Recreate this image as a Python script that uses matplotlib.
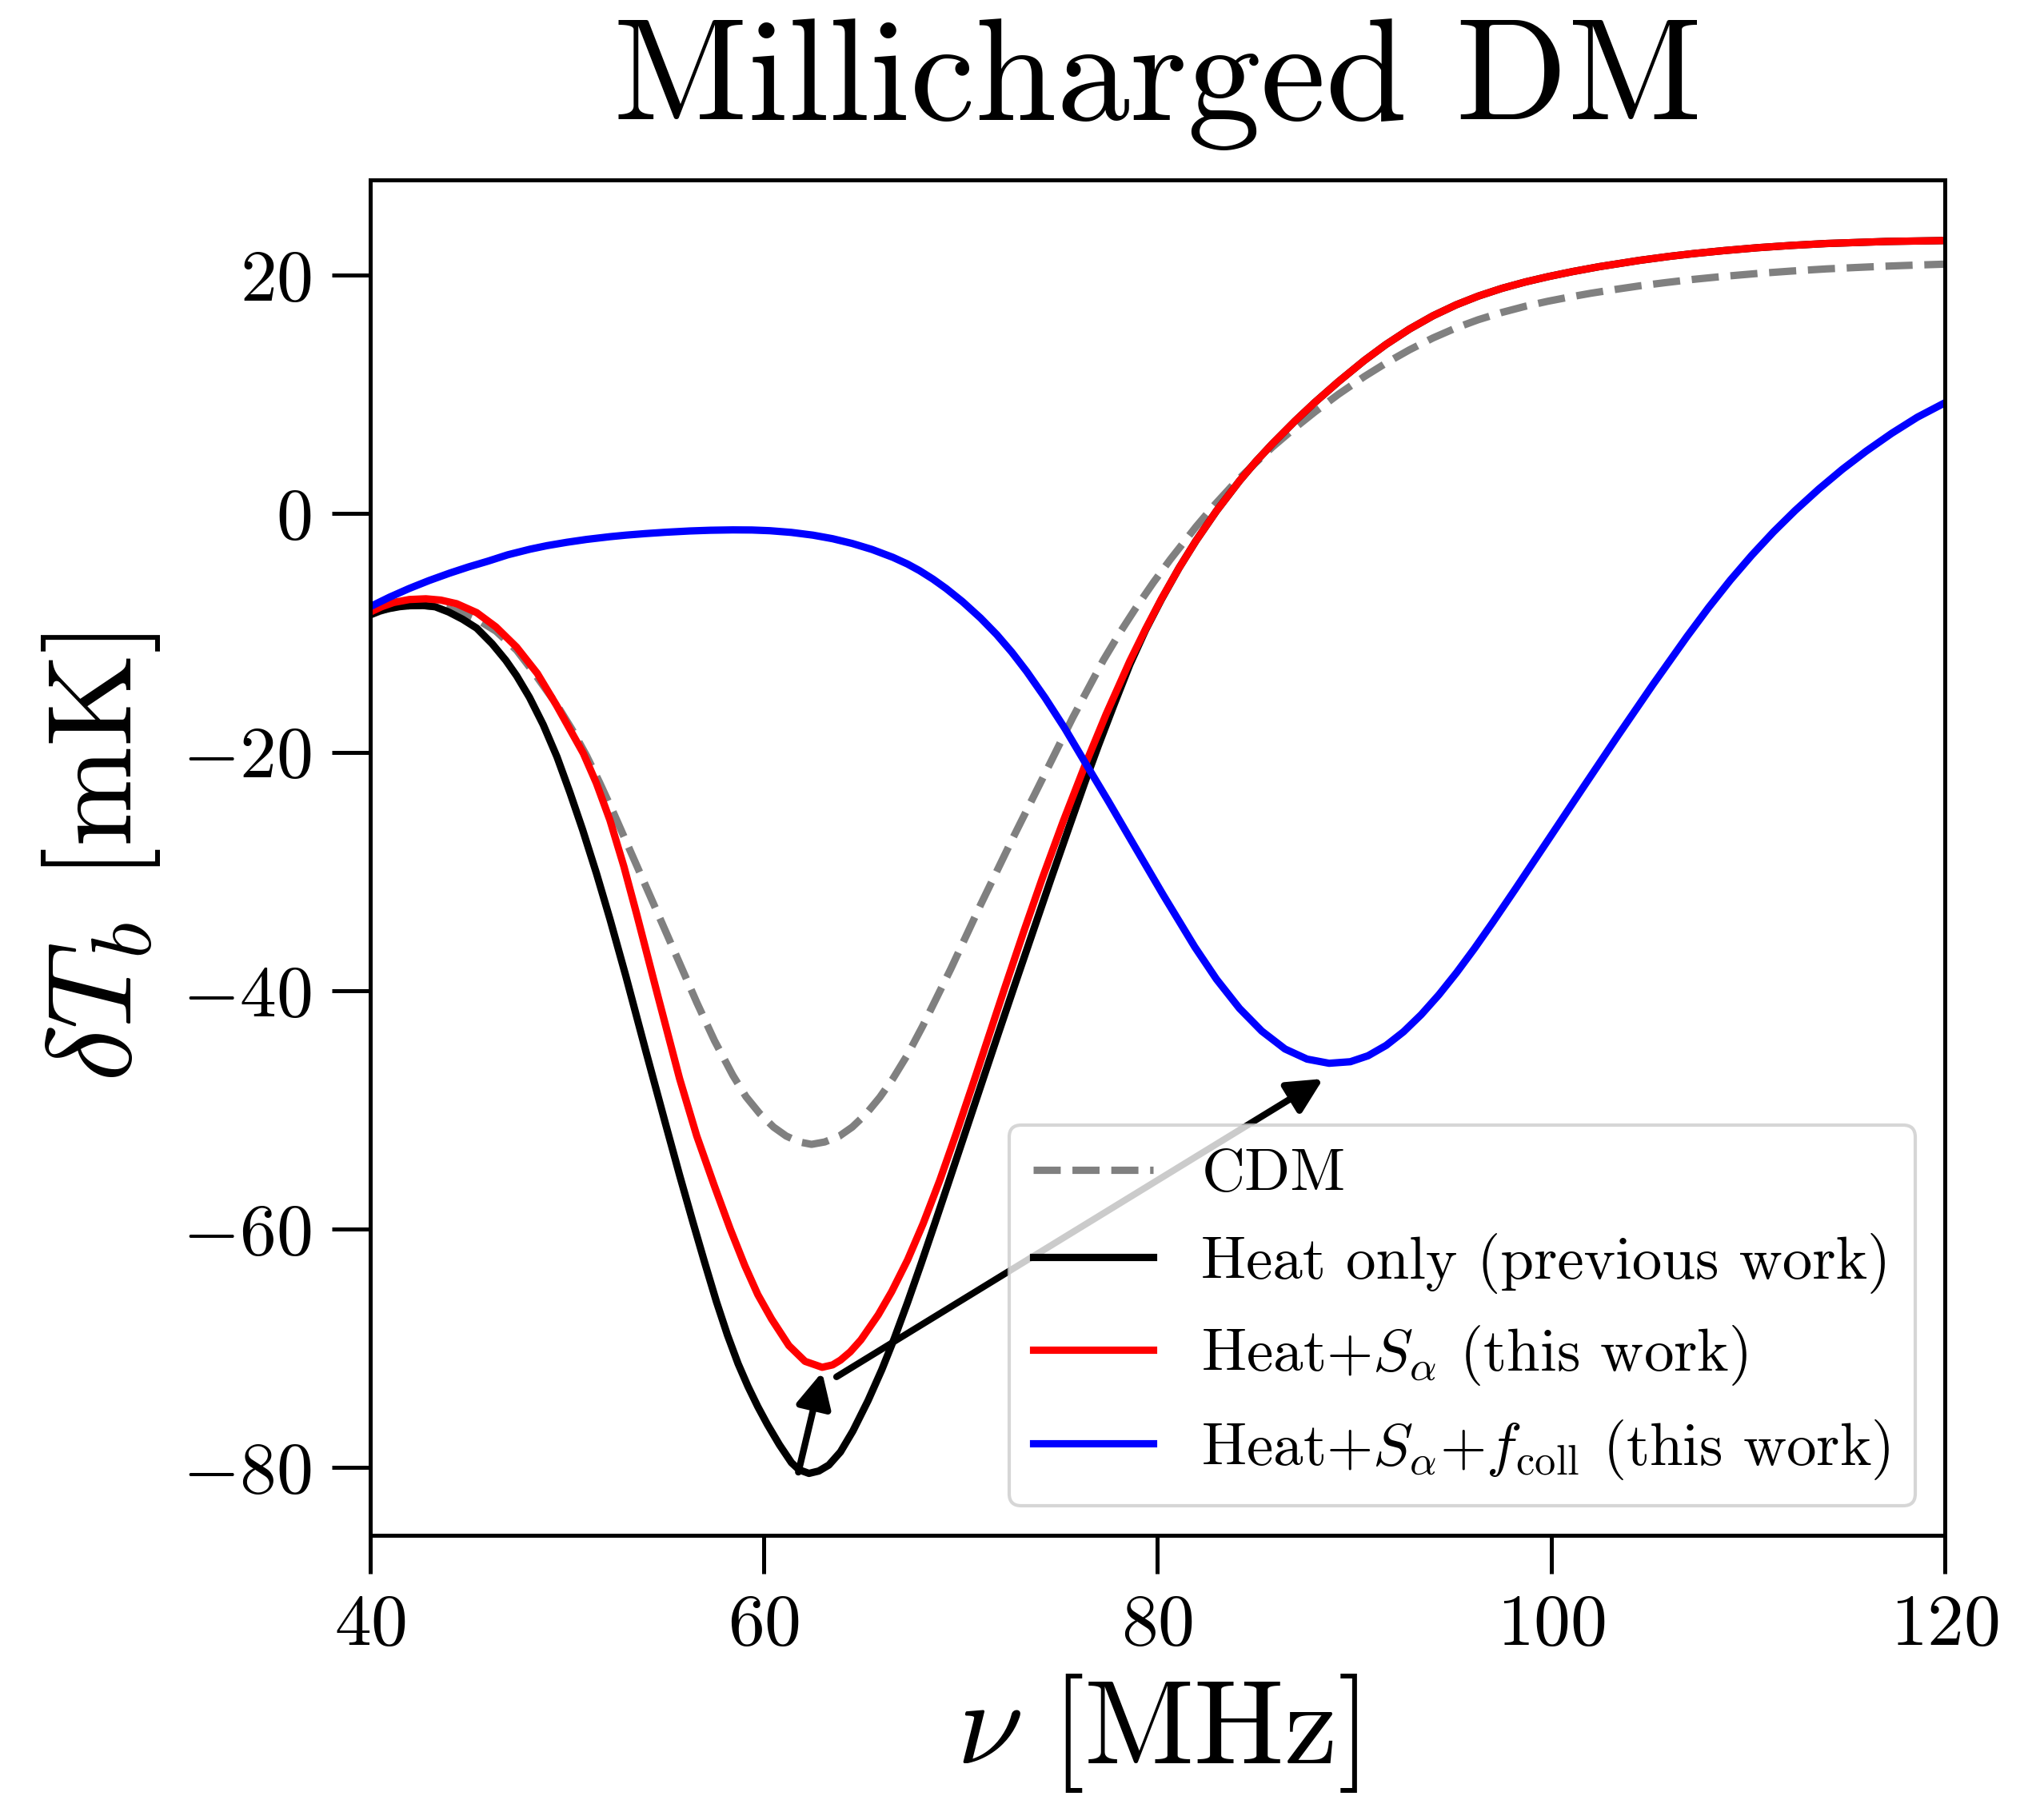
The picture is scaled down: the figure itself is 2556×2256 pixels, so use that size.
import matplotlib
matplotlib.use("Agg")
import matplotlib.pyplot as plt

plt.rcParams.update({
    "font.family": "serif",
    "font.serif": ["cmr10"],
    "mathtext.fontset": "cm",
    "axes.formatter.use_mathtext": True,
    "axes.unicode_minus": True,
})

# ---- data ----
x_cdm = [40, 41, 42, 42.71, 43.5, 44.4, 45.42, 46.4, 47.45, 48.4, 49.48, 50.3, 51, 51.65,
         52.4, 53.2, 54, 54.77, 55.7, 56.6, 57.5, 58.43, 59.1, 59.79, 60.5, 61.14, 61.8,
         62.43, 63.1, 63.85, 64.5, 65.2, 65.9, 66.56, 67.3, 68.07, 69.5, 71.02, 72.6,
         74.14, 75.7, 77.25, 78.1, 78.9, 79.8, 80.66, 81.96, 82.9, 83.9, 84.9, 85.85,
         87, 88, 89.2, 90.51, 91.6, 92.8, 94, 95.18, 96.3, 97.5, 98.7, 99.84, 101,
         102.02, 103.3, 104.5, 105.8, 107.2, 108.8, 110.5, 112.2, 113.97, 115.5, 117,
         118.5, 120]
y_cdm = [-8.48, -7.9, -7.72, -7.7, -7.85, -8.15, -8.85, -9.85, -11.45, -13.5, -16.0, -18.2, -20.3, -22.5,
         -25.2, -28.2, -31.2, -34.1, -37.6, -41.0, -44.2, -47.1, -48.9, -50.3, -51.45, -52.2, -52.7,
         -52.9, -52.7, -52.2, -51.45, -50.35, -48.95, -47.4, -45.4, -43.0, -38.2, -32.8, -27.4,
         -22.3, -17.1, -12.3, -9.96, -7.92, -5.76, -3.83, -1.1, 0.73, 2.53, 4.13, 5.6,
         7.22, 8.54, 10.02, 11.5, 12.62, 13.74, 14.74, 15.59, 16.27, 16.88, 17.4, 17.82, 18.19,
         18.49, 18.82, 19.11, 19.38, 19.65, 19.91, 20.15, 20.35, 20.53, 20.65, 20.76,
         20.85, 20.93]

x_heat = [40, 40.5, 41, 41.5, 42, 42.7, 43.3, 44, 44.7, 45.42, 46.2, 46.9, 47.45, 48.1, 48.8,
          49.5, 50.16, 50.8, 51.51, 52.19, 53, 54, 55, 55.73, 56.4, 57, 57.6, 58.16, 58.7,
          59.2, 59.7, 60.19, 60.8, 61.41, 61.8, 62.3, 62.8, 63.31, 63.9, 64.53, 65.3, 66.0,
          66.63, 67.3, 68.0, 68.7, 69.38, 70.3, 71.23, 71.96, 72.8, 73.7, 74.6, 75.5, 76.3,
          77.0, 77.8, 78.6, 79.4, 80.2, 81.1, 81.96, 83, 84.17, 85, 85.85, 87, 88, 89.2,
          90.51, 91.6, 92.8, 94, 95.18, 96.3, 97.5, 98.7, 99.84, 101.1, 102.45, 104.5, 106,
          107.2, 108.8, 110.5, 112.2, 113.97, 117, 120]
y_heat = [-8.5, -8.15, -7.95, -7.8, -7.72, -7.7, -7.8, -8.25, -8.85, -9.6, -10.9, -12.3, -13.6, -15.4, -17.7,
          -20.4, -23.4, -26.5, -30.2, -34.0, -38.8, -45.0, -51.1, -55.5, -59.4, -62.8, -66.1, -68.9, -71.3,
          -73.2, -74.9, -76.4, -78.1, -79.6, -80.2, -80.5, -80.3, -79.8, -78.7, -76.95, -74.4, -71.8,
          -69.2, -66.2, -62.9, -59.5, -56.15, -51.6, -47.0, -43.4, -39.3, -34.95, -30.6, -26.35, -22.6,
          -19.45, -16.0, -12.65, -9.75, -7.2, -4.55, -2.27, 0.23, 2.75, 4.37, 5.88, 7.79, 9.34, 11.08,
          12.85, 14.18, 15.48, 16.6, 17.52, 18.25, 18.9, 19.44, 19.88, 20.31, 20.72, 21.25, 21.58,
          21.81, 22.07, 22.31, 22.5, 22.66, 22.83, 22.91]

x_sa = [40, 40.6, 41.2, 42, 42.84, 43.6, 44.4, 45.42, 46.4, 47.45, 48.5, 49.48, 50.84, 51.5,
        52.19, 52.9, 53.55, 54.6, 55.73, 56.6, 57.49, 58.3, 59.04, 59.7, 60.4, 61.28, 62.1,
        62.97, 63.5, 63.9, 64.4, 64.94, 65.82, 66.5, 67.31, 68.1, 68.94, 69.8, 70.76, 71.34,
        72.2, 73.2, 74.14, 75.2, 76.3, 77.4, 78.6, 79.4, 80.2, 81.1, 81.96, 83, 84.17, 85,
        85.85, 87, 88, 89.2, 90.51, 91.6, 92.8, 94, 95.18, 96.3, 97.5, 98.7, 99.84, 101.1,
        102.45, 104.5, 106, 107.2, 108.8, 110.5, 112.2, 113.97, 117, 120]
y_sa = [-8.26, -7.8, -7.45, -7.2, -7.14, -7.25, -7.55, -8.3, -9.5, -11.2, -13.4, -16.09, -20.11, -22.6,
        -25.71, -29.6, -33.6, -40.3, -47.4, -52.2, -56.36, -60.0, -63.07, -65.5, -67.55, -69.78, -71.1,
        -71.6, -71.4, -71.0, -70.3, -69.3, -67.2, -65.26, -62.59, -59.55, -55.94, -51.9, -47.2, -44.3,
        -40.0, -35.1, -30.64, -25.87, -21.2, -16.8, -12.36, -9.68, -7.16, -4.55, -2.27, 0.23, 2.75, 4.37,
        5.88, 7.79, 9.34, 11.08, 12.85, 14.18, 15.48, 16.6, 17.52, 18.25, 18.9, 19.44, 19.88, 20.31,
        20.72, 21.25, 21.58, 21.81, 22.07, 22.31, 22.5, 22.66, 22.83, 22.91]

x_fc = [40, 41, 42, 43, 44.06, 45, 46, 47, 48.13, 49, 50, 51, 52.19, 53, 54, 55, 56.25, 57.3,
        58.43, 59.4, 60.32, 61.4, 62.5, 63.5, 64.5, 65.5, 66.56, 67.3, 67.92, 68.6, 69.27,
        70.1, 71.02, 71.84, 72.6, 73.36, 74.3, 75.3, 76.3, 77.5, 78.79, 80.3, 81.9, 83,
        84.17, 85.3, 86.48, 87.6, 88.72, 89.8, 90.7, 91.62, 92.5, 93.4, 94.3, 95.2, 96.1,
        97.0, 98.16, 99.9, 101.66, 103.4, 105.16, 106.9, 108.0, 109.1, 110.2, 111.3, 112.4,
        113.6, 114.8, 116.0, 117.3, 118.6, 120]
y_fc = [-7.81, -7.0, -6.27, -5.61, -4.98, -4.47, -3.98, -3.45, -2.98, -2.68, -2.4, -2.16, -1.93, -1.8, -1.67, -1.56, -1.45, -1.39,
        -1.36, -1.37, -1.43, -1.57, -1.8, -2.1, -2.5, -3.0, -3.66, -4.22, -4.78, -5.49, -6.28,
        -7.38, -8.76, -10.15, -11.61, -13.24, -15.46, -18.02, -20.8, -24.1, -27.75, -32.0, -36.35, -39.05,
        -41.5, -43.4, -44.9, -45.75, -46.1, -45.97, -45.47, -44.6, -43.46, -42.02, -40.35, -38.49, -36.48,
        -34.36, -31.54, -27.24, -22.88, -18.6, -14.36, -10.31, -7.87, -5.58, -3.47, -1.52, 0.27,
        2.07, 3.73, 5.24, 6.74, 8.09, 9.3]

labels = ["CDM", "Heat only (previous work)", r"Heat+$S_\alpha$ (this work)",
          r"Heat+$S_\alpha$+$f_{\rm coll}$ (this work)"]
xticks = [40, 60, 80, 100, 120]
yticks = [-80, -60, -40, -20, 0, 20]

# arrows: (tail, head)
arrow1 = ((61.76, -80.4), (62.97, -72.0))
arrow2 = ((63.7, -72.4), (88.42, -47.4))

fig = plt.figure(figsize=(8.52, 7.52), dpi=300)
ax = fig.add_axes([0.181, 0.1489, 0.9515 - 0.181, 0.9003 - 0.1489])

lw = 2.2
ax.plot(x_cdm, y_cdm, color="gray", ls="--", lw=lw, label=labels[0])
ax.plot(x_heat, y_heat, color="black", lw=lw, label=labels[1])
ax.plot(x_sa, y_sa, color="red", lw=lw, label=labels[2])
ax.plot(x_fc, y_fc, color="blue", lw=lw, label=labels[3])

for tail, head in (arrow1, arrow2):
    ax.annotate("", xy=head, xytext=tail,
                arrowprops=dict(arrowstyle="-|>", color="black", lw=2.0,
                                mutation_scale=22, shrinkA=0, shrinkB=0))

ax.set_xlim(40, 120)
ax.set_ylim(-85.7, 28)
ax.set_xticks(xticks)
ax.set_yticks(yticks)
ax.tick_params(axis="both", which="major", labelsize=22, length=11.5, width=1.2,
               direction="out", pad=6, top=False, right=False)
for s in ax.spines.values():
    s.set_linewidth(1.2)

ax.set_xlabel(r"$\nu\ [\mathrm{MHz}]$", fontsize=36, labelpad=4)
ax.set_ylabel(r"$\delta T_b\ [\mathrm{mK}]$", fontsize=36, labelpad=6)
ax.set_title("Millicharged DM", fontsize=44, pad=18)

ax.legend(loc="lower right", fontsize=18)

fig.savefig("out.png", dpi=300)
